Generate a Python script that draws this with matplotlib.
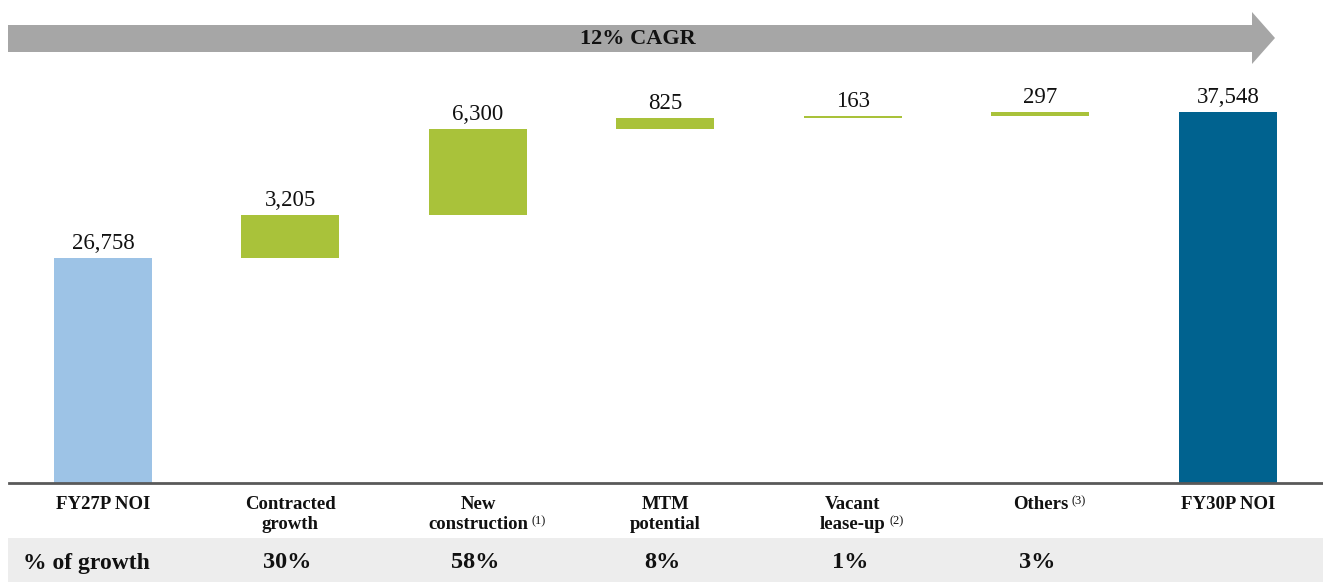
import numpy as np
import matplotlib

matplotlib.use("Agg")
import matplotlib.pyplot as plt
from matplotlib.patches import Polygon, Rectangle

plt.rcParams["font.family"] = ["Liberation Serif", "DejaVu Serif"]

# --- data ------------------------------------------------------------------
categories = [
    ["FY27P NOI"],
    ["Contracted", "growth"],
    ["New", "construction"],
    ["MTM", "potential"],
    ["Vacant", "lease-up"],
    ["Others"],
    ["FY30P NOI"],
]
footnotes = ["", "", "(1)", "", "(2)", "(3)", ""]
start_value = 26758
steps = [3205, 6300, 825, 163, 297]
end_value = 37548
growth_share = ["", "30%", "58%", "8%", "1%", "3%", ""]
cagr_label = "12% CAGR"

C_START = "#9DC3E6"
C_STEP = "#A9C23A"
C_END = "#00628F"
TXT = "#111111"

W, H = 1323, 582
fig = plt.figure(figsize=(W / 100, H / 100), dpi=100)


def px(x, y):
    # pixel position (from top-left) -> figure fraction
    return x / W, 1 - y / H


# bars live in an axes whose bottom edge is the category line
base_y = 483
ax = fig.add_axes([0, 1 - base_y / H, 1, base_y / H])
y_floor = 10130
ax.set_ylim(y_floor, 45830)
ax.set_xlim(-0.549, 6.507)
ax.axis("off")

width = 0.523
x = np.arange(len(categories))
ax.bar(x[0], start_value - y_floor, bottom=y_floor, width=width, color=C_START)
running = start_value
tops = [start_value]
for i, s in enumerate(steps, start=1):
    ax.bar(x[i], s, bottom=running, width=width, color=C_STEP)
    running += s
    tops.append(running)
ax.bar(x[-1], end_value - y_floor, bottom=y_floor, width=width, color=C_END)
tops.append(end_value)

labels = [start_value] + steps + [end_value]
for xi, top, v in zip(x, tops, labels):
    ax.annotate(f"{v:,}", (xi, top), xytext=(0, 3), textcoords="offset points",
                ha="center", va="bottom", fontsize=16.5, color=TXT)

# category axis line
fig.add_artist(plt.Line2D([9 / W, 1], [1 - base_y / H] * 2, color="#595959", lw=2))

# CAGR arrow
pts = [px(8, 25), px(1252, 25), px(1252, 12), px(1275, 38),
       px(1252, 64), px(1252, 52), px(8, 52)]
fig.add_artist(Polygon(pts, closed=True, transform=fig.transFigure,
                       facecolor="#A6A6A6", edgecolor="none"))
fig.text(*px(638, 39), cagr_label, ha="center", va="center",
         fontsize=16, fontweight="bold", color=TXT)

# category labels; footnote marks hang off the right of the last line
centers = [103 + 187.5 * i for i in range(len(categories))]
for cx, lines, note in zip(centers, categories, footnotes):
    t = None
    for k, line in enumerate(lines):
        t = fig.text(*px(cx, 509 + 20 * k), line, ha="center", va="baseline",
                     fontsize=13.5, fontweight="bold", color=TXT)
    if note:
        ax.annotate(note, xy=(1, 0), xycoords=t, xytext=(2.5, 6),
                    textcoords="offset points", fontsize=9, color=TXT,
                    ha="left", va="baseline", annotation_clip=False)

# "% of growth" band
fig.add_artist(Rectangle(px(8, H), (W - 8) / W, (H - 538) / H,
                         transform=fig.transFigure, facecolor="#EDEDED",
                         edgecolor="none"))
fig.text(*px(23, 563), "% of growth", ha="left", va="center", fontsize=17,
         fontweight="bold", color=TXT)
for cx, g in zip(centers, growth_share):
    if g:
        fig.text(*px(cx - 3, 563), g, ha="center", va="center", fontsize=17.5,
                 fontweight="bold", color=TXT)

fig.savefig("out.png", dpi=100)
